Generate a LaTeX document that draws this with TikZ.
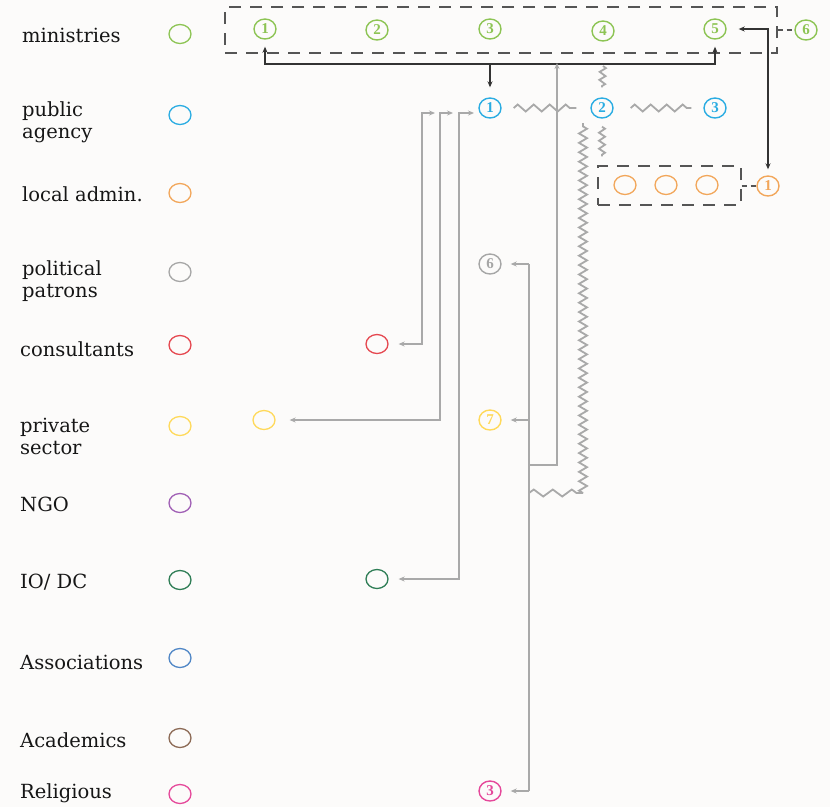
\documentclass[tikz,border=0pt]{standalone}
\usepackage{fontspec}
\setmainfont{Liberation Serif}
\newfontfamily\labfont{DejaVu Serif}
\usetikzlibrary{arrows.meta,decorations.pathmorphing,shapes.geometric}
\definecolor{cgreen}{HTML}{8DC454}
\definecolor{cblue}{HTML}{2AACE2}
\definecolor{corange}{HTML}{F2A65A}
\definecolor{cgray}{HTML}{A6A6A6}
\definecolor{cred}{HTML}{E5474F}
\definecolor{cyellow}{HTML}{FFD95A}
\definecolor{cpurple}{HTML}{A05FB5}
\definecolor{cdkgreen}{HTML}{2E7D55}
\definecolor{cassoc}{HTML}{4F86C6}
\definecolor{cbrown}{HTML}{8C6A55}
\definecolor{cpink}{HTML}{E5489A}
\definecolor{lgray}{HTML}{A9A9A9}
\definecolor{dk}{HTML}{333333}
\definecolor{dashc}{HTML}{555555}
\definecolor{txt}{HTML}{161616}
\definecolor{bg}{HTML}{FCFBFA}
\begin{document}
\begin{tikzpicture}[x=1pt,y=-1pt,
  lab/.style={anchor=west,align=left,font=\labfont\fontsize{19.5}{22}\selectfont,text=txt,inner sep=0pt},
  leg/.style={ellipse,draw=#1,line width=1.3pt,minimum width=22pt,minimum height=19pt,inner sep=0pt},
  num/.style={ellipse,draw=#1,text=#1,line width=1.4pt,minimum width=22pt,minimum height=20pt,inner sep=0pt,font=\fontsize{15}{15}\selectfont\bfseries},
  dashbox/.style={draw=dashc,line width=1.4pt,dash pattern=on 12pt off 9pt,inner sep=0pt},
  gline/.style={draw=lgray,line width=1.8pt},
  bline/.style={draw=dk,line width=1.8pt},
  tip/.style={-{Stealth[length=6pt,width=5pt]}},
  tips/.style={{Stealth[length=6pt,width=5pt]}-{Stealth[length=6pt,width=5pt]}},
  gzig/.style={gline,decorate,decoration={zigzag,segment length=16pt,amplitude=3.5pt}},
  szig/.style={gline,decorate,decoration={zigzag,segment length=8pt,amplitude=3pt}}]
\fill[bg] (0,0) rectangle (830,807);
\useasboundingbox (0,0) rectangle (830,807);

% legend
\node[lab] (Lmin) at (22,35) {ministries};
\node[lab] (Lpub) at (22,122) {public\\agency};
\node[lab] (Lloc) at (22,194) {local admin.};
\node[lab] (Lpol) at (22,281) {political\\patrons};
\node[lab] (Lcon) at (20,349) {consultants};
\node[lab] (Lpri) at (20,436) {private\\sector};
\node[lab] (Lngo) at (20,504) {NGO};
\node[lab] (Lio) at (20,582) {IO/ DC};
\node[lab] (Lass) at (20,662) {Associations};
\node[lab] (Laca) at (20,740) {Academics};
\node[lab] (Lrel) at (20,793) {Religious};

\node[leg=cgreen] (Cmin) at (180,34) {};
\node[leg=cblue] (Cpub) at (180,115) {};
\node[leg=corange] (Cloc) at (180,193) {};
\node[leg=cgray] (Cpol) at (180,272) {};
\node[leg=cred] (Ccon) at (180,345) {};
\node[leg=cyellow] (Cpri) at (180,426) {};
\node[leg=cpurple] (Cngo) at (180,503) {};
\node[leg=cdkgreen] (Cio) at (180,580) {};
\node[leg=cassoc] (Cass) at (180,658) {};
\node[leg=cbrown] (Caca) at (180,738) {};
\node[leg=cpink] (Crel) at (180,794) {};

% ministries box
\node[dashbox,minimum width=552pt,minimum height=46pt] (mbox) at (501,30) {};
\node[num=cgreen] (m1) at (265,29) {1};
\node[num=cgreen] (m2) at (377,30) {2};
\node[num=cgreen] (m3) at (490,29) {3};
\node[num=cgreen] (m4) at (603,31) {4};
\node[num=cgreen] (m5) at (715,29) {5};
\node[num=cgreen] (m6) at (806,30) {6};
\draw[draw=dashc,line width=1.4pt,dash pattern=on 5pt off 4pt] (mbox.east) -- (m6.west);

% public agencies
\node[num=cblue] (a1) at (490,108) {1};
\node[num=cblue] (a2) at (602,108) {2};
\node[num=cblue] (a3) at (715,108) {3};

% local admin box
\node[dashbox,minimum width=143pt,minimum height=39pt] (obox) at (669.5,185.5) {};
\node[leg=corange] (l1) at (625,185) {};
\node[leg=corange] (l2) at (666,185) {};
\node[leg=corange] (l3) at (707,185) {};
\node[num=corange] (lo1) at (768,186) {1};
\draw[draw=dashc,line width=1.4pt,dash pattern=on 5pt off 4pt] (obox.east |- lo1) -- (lo1.west);

% other actors
\node[num=cgray] (p6) at (490,264) {6};
\node[num=cyellow] (s7) at (490,420) {7};
\node[num=cpink] (r3) at (490,791) {3};
\node[leg=cred] (c) at (377,344) {};
\node[leg=cyellow] (y) at (264,420) {};
\node[leg=cdkgreen] (io) at (377,579) {};

% coordinates
\coordinate (bus3) at (490,63);
\coordinate (bus2) at (557,63);
\coordinate (bus4) at (603,66);
\coordinate (trunk) at (529,465);
\coordinate (zz) at (529,493);
\coordinate (zc) at (583,493);
\coordinate (ztop) at (583,123);
\coordinate (t1) at (435,113);
\coordinate (t2) at (453,113);
\coordinate (t3) at (474,113);

% black connectors
\draw[bline,tips,shorten <=7pt,shorten >=7pt] (m1.south) -- ++(0,24) -| (m5.south);
\draw[bline,tip,shorten >=10pt] (bus3) -- (a1.north);
\draw[bline,tips,shorten <=12pt,shorten >=6pt] (m5.east) -| (lo1.north);

% gray connectors
\draw[gline] (p6 -| trunk) -- (r3 -| trunk);
\foreach \n in {p6,s7,r3} \draw[gline,tip,shorten >=9pt] (\n -| trunk) -- (\n.east);
\draw[gline,tip] (trunk) -| (bus2);
\draw[gline,tips,shorten <=10pt] (c.east) -| ([xshift=-13pt]t1) -- (t1);
\draw[gline,tips,shorten <=14pt] (y.east) -| ([xshift=-13pt]t2) -- (t2);
\draw[gline,tips,shorten <=10pt] (io.east) -| ([xshift=-15pt]t3) -- (t3);

% zigzags
\draw[gline,decorate,decoration={zigzag,segment length=19pt,amplitude=3.5pt}] (zz) -- (zc);
\draw[gline,decorate,decoration={zigzag,segment length=9.4pt,amplitude=4pt}] (zc) -- (ztop);
\draw[gzig] ([xshift=12pt]a1.east) -- ([xshift=-14pt]a2.west);
\draw[gzig] ([xshift=17pt]a2.east) -- ([xshift=-12pt]a3.west);
\draw[szig] (bus4) -- ([yshift=10pt]a2.north);
\draw[szig] ([yshift=-8pt]a2.south) -- ([yshift=9pt]obox.north -| a2);
\end{tikzpicture}
\end{document}
